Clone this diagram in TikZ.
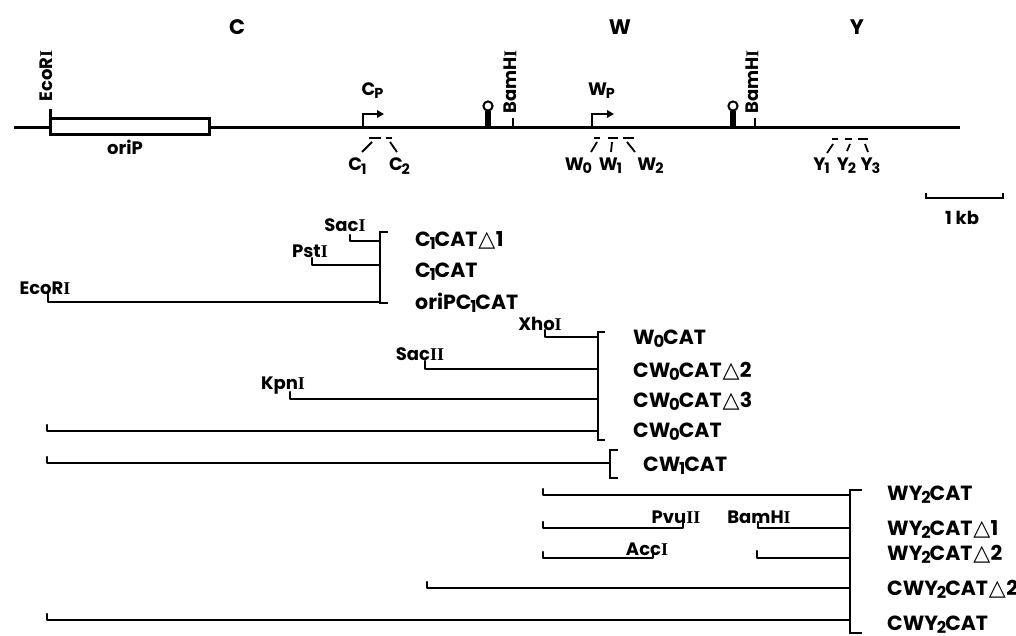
\documentclass[tikz,border=0pt]{standalone}
\usepackage{fontspec}
\setmainfont{Poppins}
\newfontfamily\romfont{Liberation Serif}
\newfontfamily\symfont{DejaVu Sans}
\usetikzlibrary{arrows.meta}
\newcommand\RI{{\romfont\bfseries I}}
\newcommand\sbx[1]{\kern-0.06em\raisebox{-0.32ex}{\scalebox{0.8}{#1}}\kern-0.05em}
\newcommand\tri{\kern0.04em{\symfont\scalebox{1.08}{△}}\kern0.02em}
\tikzset{
  lab/.style={font=\fontsize{20.5}{20}\selectfont\bfseries, inner sep=0pt, anchor=base west},
  site/.style={font=\fontsize{18}{18}\selectfont\bfseries, inner sep=0pt},
  gene/.style={font=\fontsize{18}{18}\selectfont\bfseries, inner sep=0pt},
  big/.style={font=\fontsize{21}{21}\selectfont\bfseries, inner sep=0pt},
  mapline/.style={line width=3pt},
  cline/.style={line width=2.4pt, line join=round, line cap=round},
  brk/.style={line width=2.8pt, line join=miter},
  thin/.style={line width=1.8pt},
  prom/.style={line width=2.2pt, -{Triangle[length=7pt,width=7.5pt]}},
}
\begin{document}
\begin{tikzpicture}[x=1pt,y=-1pt]
\useasboundingbox (0,0) rectangle (1016,635);
% ---------- top map ----------
\node[big] (Cg) at (237,27) {C};
\node[big] (Wg) at (620,27) {W};
\node[big] (Yg) at (857,27) {Y};

\draw[mapline] (14,127) -- (960,127);
\draw[mapline, fill=white] (50,118) rectangle (209,134);
\draw[mapline] (50,118) -- (50,109);
\node[gene] (oriP) at (125,147) {oriP};
\node[gene, rotate=90] (ecoT) at (46,76) {EcoR\RI};

% promoters
\draw[prom] (363,127) -- (363,114) -- (384,114);
\node[gene] (Cp) at (372,91) {C\sbx{P}};
\draw[prom] (592,127) -- (592,114) -- (614,114);
\node[gene] (Wp) at (601,91) {W\sbx{P}};

% stem loops
\foreach \sx in {488,733}{
  \fill (\sx-2.8,127) rectangle (\sx+2.8,111);
  \draw[line width=2pt, fill=white] (\sx,106) circle (4.6);
}
% BamHI ticks
\draw[thin] (513,127) -- (513,118);
\draw[thin] (755,127) -- (755,118);
\node[gene, rotate=90] (bam1) at (510,82) {BamH\RI};
\node[gene, rotate=90] (bam2) at (752,82) {BamH\RI};

% exon dashes
\draw[thin] (369,138) -- (381,138) (386,138) -- (392,138);
\draw[thin] (372,142) -- (362,152) (390,142) -- (397,152);
\node[gene] (C1) at (357,166) {C\sbx{1}};
\node[gene] (C2) at (399,166) {C\sbx{2}};

\draw[thin] (594,138) -- (600,138) (608,138) -- (618,138) (623,138) -- (634,138);
\draw[thin] (597,142) -- (591,152) (612,142) -- (611,152) (627,142) -- (635,152);
\node[gene] (W0) at (578,166) {W\sbx{0}};
\node[gene] (W1) at (610,166) {W\sbx{1}};
\node[gene] (W2) at (650,166) {W\sbx{2}};

\draw[thin] (832,139) -- (838,139) (845,139) -- (852,139) (858,139) -- (868,139);
\draw[thin] (833,144) -- (827,153) (850,144) -- (847,151) (865,144) -- (868,152);
\node[gene] (Y1) at (821,166) {Y\sbx{1}};
\node[gene] (Y2) at (846,166) {Y\sbx{2}};
\node[gene] (Y3) at (870,166) {Y\sbx{3}};

% scale bar
\draw[thin] (926,193) -- (926,198) -- (1003,198) -- (1003,193);
\node[gene] (kb) at (962,218) {1 kb};

% ---------- group C ----------
\draw[brk] (388,232) -- (380,232) -- (380,303) -- (388,303);
\node[site] (sac1) at (345,225) {Sac\RI};
\draw[cline] (350,235) -- (350,241) -- (380,241);
\node[site] (pst) at (310,251) {Pst\RI};
\draw[cline] (312,258) -- (312,265) -- (380,265);
\node[site] (eco2) at (45,288) {EcoR\RI};
\draw[cline] (48,293) -- (48,302) -- (380,302);
\node[lab] (c1d1) at (415,246) {C\sbx{1}CAT\tri1};
\node[lab] (c1) at (415,277) {C\sbx{1}CAT};
\node[lab] (oc1) at (415,309) {oriPC\sbx{1}CAT};

% ---------- group W0 ----------
\draw[brk] (605,332) -- (598,332) -- (598,440) -- (605,440);
\node[site] (xho) at (540,324) {Xho\RI};
\draw[cline] (545,330) -- (545,337) -- (598,337);
\node[site] (sac2) at (420,354) {Sac\RI\RI};
\draw[cline] (425,361) -- (425,369) -- (598,369);
\node[site] (kpn) at (283,386) {Kpn\RI};
\draw[cline] (290,392) -- (290,399) -- (598,399);
\draw[cline] (47,425) -- (47,431) -- (598,431);
\node[lab] (w0) at (633,344) {W\sbx{0}CAT};
\node[lab] (cw0d2) at (633,377) {CW\sbx{0}CAT\tri2};
\node[lab] (cw0d3) at (633,407) {CW\sbx{0}CAT\tri3};
\node[lab] (cw0) at (633,437) {CW\sbx{0}CAT};

% ---------- CW1 ----------
\draw[brk] (618,450) -- (610,450) -- (610,478) -- (618,478);
\draw[cline] (47,457) -- (47,463) -- (610,463);
\node[lab] (cw1) at (643,471) {CW\sbx{1}CAT};

% ---------- group WY2 ----------
\draw[brk] (862,490) -- (850,490) -- (850,633) -- (862,633);
\draw[cline] (543,489) -- (543,495) -- (850,495);
\draw[cline] (543,522) -- (543,528) -- (683,528) -- (683,521);
\node[site] (pvu) at (676,517) {Pvu\RI\RI};
\node[site] (bam3) at (759,517) {BamH\RI};
\draw[cline] (758,522) -- (758,528) -- (850,528);
\draw[cline] (543,552) -- (543,558) -- (653,558) -- (653,551);
\node[site] (acc) at (647,549) {Acc\RI};
\draw[cline] (757,551) -- (757,558) -- (850,558);
\draw[cline] (427,582) -- (427,588) -- (850,588);
\draw[cline] (47,614) -- (47,620) -- (850,620);
\node[lab] (wy) at (887,500) {WY\sbx{2}CAT};
\node[lab] (wyd1) at (887,535) {WY\sbx{2}CAT\tri1};
\node[lab] (wyd2) at (887,560) {WY\sbx{2}CAT\tri2};
\node[lab] (cwyd2) at (887,595) {CWY\sbx{2}CAT\tri2};
\node[lab] (cwy) at (887,630) {CWY\sbx{2}CAT};
\end{tikzpicture}
\end{document}
